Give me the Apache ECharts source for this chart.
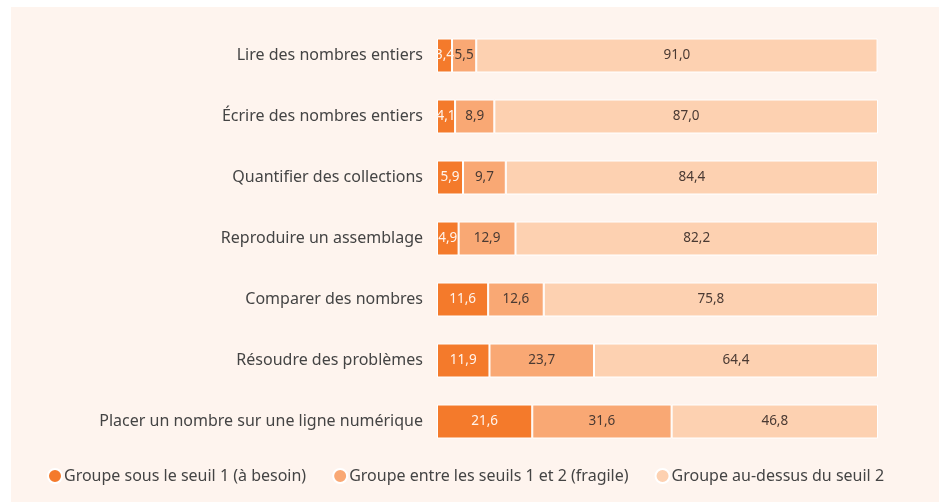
<!DOCTYPE html>
<html>
<head>
<meta charset="utf-8">
<script src="https://cdn.jsdelivr.net/npm/echarts@6/dist/echarts.min.js"></script>
<style>
  html, body { margin: 0; padding: 0; background: #fff; }
  #main { width: 939px; height: 502px; }
</style>
</head>
<body>
<div id="main"></div>
<script>
// catégories (de haut en bas)
var categories = [
    'Lire des nombres entiers',
    'Écrire des nombres entiers',
    'Quantifier des collections',
    'Reproduire un assemblage',
    'Comparer des nombres',
    'Résoudre des problèmes',
    'Placer un nombre sur une ligne numérique'
];
var seriesNames = [
    'Groupe sous le seuil 1 (à besoin)',
    'Groupe entre les seuils 1 et 2 (fragile)',
    'Groupe au-dessus du seuil 2'
];
var besoin = [3.4, 4.1, 5.9, 4.9, 11.6, 11.9, 21.6];
var fragile = [5.5, 8.9, 9.7, 12.9, 12.6, 23.7, 31.6];
var auDessus = [91.0, 87.0, 84.4, 82.2, 75.8, 64.4, 46.8];

var colors = ['#f47a2b', '#f9a874', '#fdd1b1'];
var labelColors = ['#fff4ec', '#4a3a33', '#4a3a33'];

var myChart = echarts.init(document.getElementById('main'));

function makeSerie(i, data) {
    return {
        name: seriesNames[i],
        type: 'bar',
        stack: 'total',
        barWidth: 34,
        data: data,
        itemStyle: { color: colors[i], borderColor: '#ffffff', borderWidth: 1 },
        label: {
            show: true,
            position: 'inside',
            color: labelColors[i],
            fontSize: 13.5,
            fontFamily: 'Noto Sans',
            formatter: function (p) { return p.value.toFixed(1).replace('.', ','); }
        }
    };
}

var option = {
    backgroundColor: '#ffffff',
    textStyle: { fontFamily: 'Noto Sans' },
    graphic: [{
        type: 'rect',
        z: -10,
        shape: { x: 11, y: 7, width: 928, height: 495 },
        style: { fill: '#fef4ee' }
    }],
    grid: { left: 437, right: 61, top: 25, bottom: 50, containLabel: false },
    legend: {
        bottom: 13,
        left: 42,
        icon: 'circle',
        itemWidth: 14,
        itemHeight: 14,
        itemGap: 26,
        textStyle: { fontSize: 16, color: '#444', fontFamily: 'Noto Sans', padding: [0, 0, 0, -3] },
        data: seriesNames
    },
    xAxis: {
        type: 'value',
        min: 0,
        max: 100,
        show: false
    },
    yAxis: {
        type: 'category',
        data: categories,
        inverse: true,
        axisLine: { show: false },
        axisTick: { show: false },
        axisLabel: { fontSize: 16, color: '#444', margin: 14, fontFamily: 'Noto Sans' }
    },
    series: [
        makeSerie(0, besoin),
        makeSerie(1, fragile),
        makeSerie(2, auDessus)
    ]
};

myChart.setOption(option);
</script>
</body>
</html>
